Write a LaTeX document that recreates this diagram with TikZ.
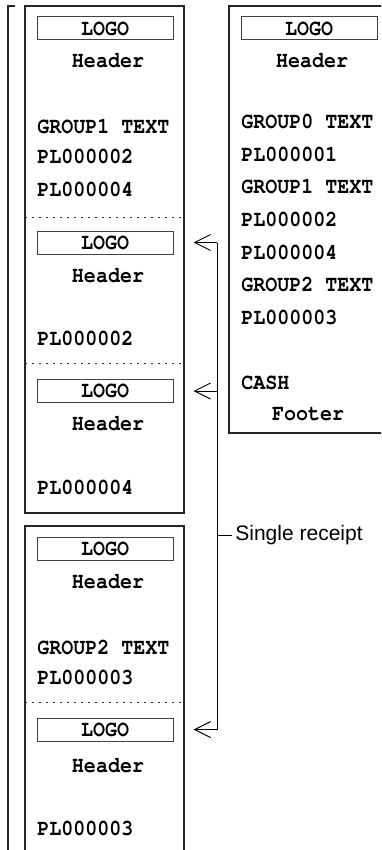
\documentclass[tikz,border=0pt]{standalone}
\usepackage{fontspec}
\setmonofont{TeX Gyre Cursor}[FakeStretch=0.885]
\setsansfont{Liberation Sans}
\usetikzlibrary{arrows.meta}

\tikzset{
	slip/.style={font=\fontsize{11.3}{13}\selectfont\ttfamily\bfseries, inner sep=0pt, anchor=base west},
	slipmid/.style={slip, anchor=base},
	logobox/.style={draw=black!75, line width=0.5pt, minimum width=68pt, minimum height=11.5pt, inner sep=0pt, font=\fontsize{11.3}{13}\selectfont\ttfamily\bfseries},
	frame/.style={draw=black!85, line width=0.55pt},
	cut/.style={draw=black!80, line width=0.5pt, dash pattern=on 1pt off 2.5pt},
	conn/.style={draw=black, line width=0.5pt},
	tip/.style={conn, -{Straight Barb[length=8pt,width=8pt,line width=0.5pt]}, shorten >=10pt}
}

\begin{document}
\begin{tikzpicture}[x=0.5pt,y=-0.5pt]
			\useasboundingbox (0,0) rectangle (381,850);
			\clip (0,0) rectangle (381,850);
			\draw[frame] (8,860) -- (8,6) -- (15,6);
			\draw[frame] (25,6) rectangle (184,513);
			\draw[frame] (25,860) -- (25,526) -- (184,526) -- (184,860);
			\draw[frame] (390,6) -- (229,6) -- (229,433) -- (390,433);
			\foreach \y in {218,363,702} {
				\draw[cut] (25,\y) -- (184,\y);
			}
			\foreach \n/\yy/\hy in {A/28.5/61,B/242.5/275,C/391/423,D/548.5/581,E/729.5/765} {
				\node[logobox] (logo\n) at (105,\yy) {LOGO};
				\node[slipmid] (head\n) at (108,\hy+7) {Header};
			}
			\foreach \t/\yy [count=\i] in {GROUP1 TEXT/127,PL000002/157,PL000004/190,PL000002/338,PL000004/487,GROUP2 TEXT/647,PL000003/677,PL000003/828} {
				\node[slip] (l\i) at (37,\yy+7) {\t};
			}
			\node[logobox] (logoR) at (309,28.5) {LOGO};
			\node[slipmid] (headR) at (312,61+7) {Header};
			\foreach \t/\yy [count=\i] in {GROUP0 TEXT/122,PL000001/154.5,GROUP1 TEXT/187,PL000002/219.5,PL000004/252,GROUP2 TEXT/284.5,PL000003/317,CASH/382} {
				\node[slip] (r\i) at (241,\yy+7) {\t};
			}
			\node[slipmid] (footR) at (308,413+7) {Footer};
			\coordinate (spine) at (217,0);
			\draw[conn] (logoB.east -| spine) -- (logoE.east -| spine);
			\foreach \n in {B,C,E} {
				\draw[tip] (logo\n.east -| spine) -- (logo\n.east);
			}
			\node[font=\fontsize{10.5}{12}\selectfont\sffamily, anchor=west, inner sep=1.5pt] (single) at (232,535) {Single receipt};
			\draw[conn] (single.west -| spine) -- (single.west);
\end{tikzpicture}
\end{document}
